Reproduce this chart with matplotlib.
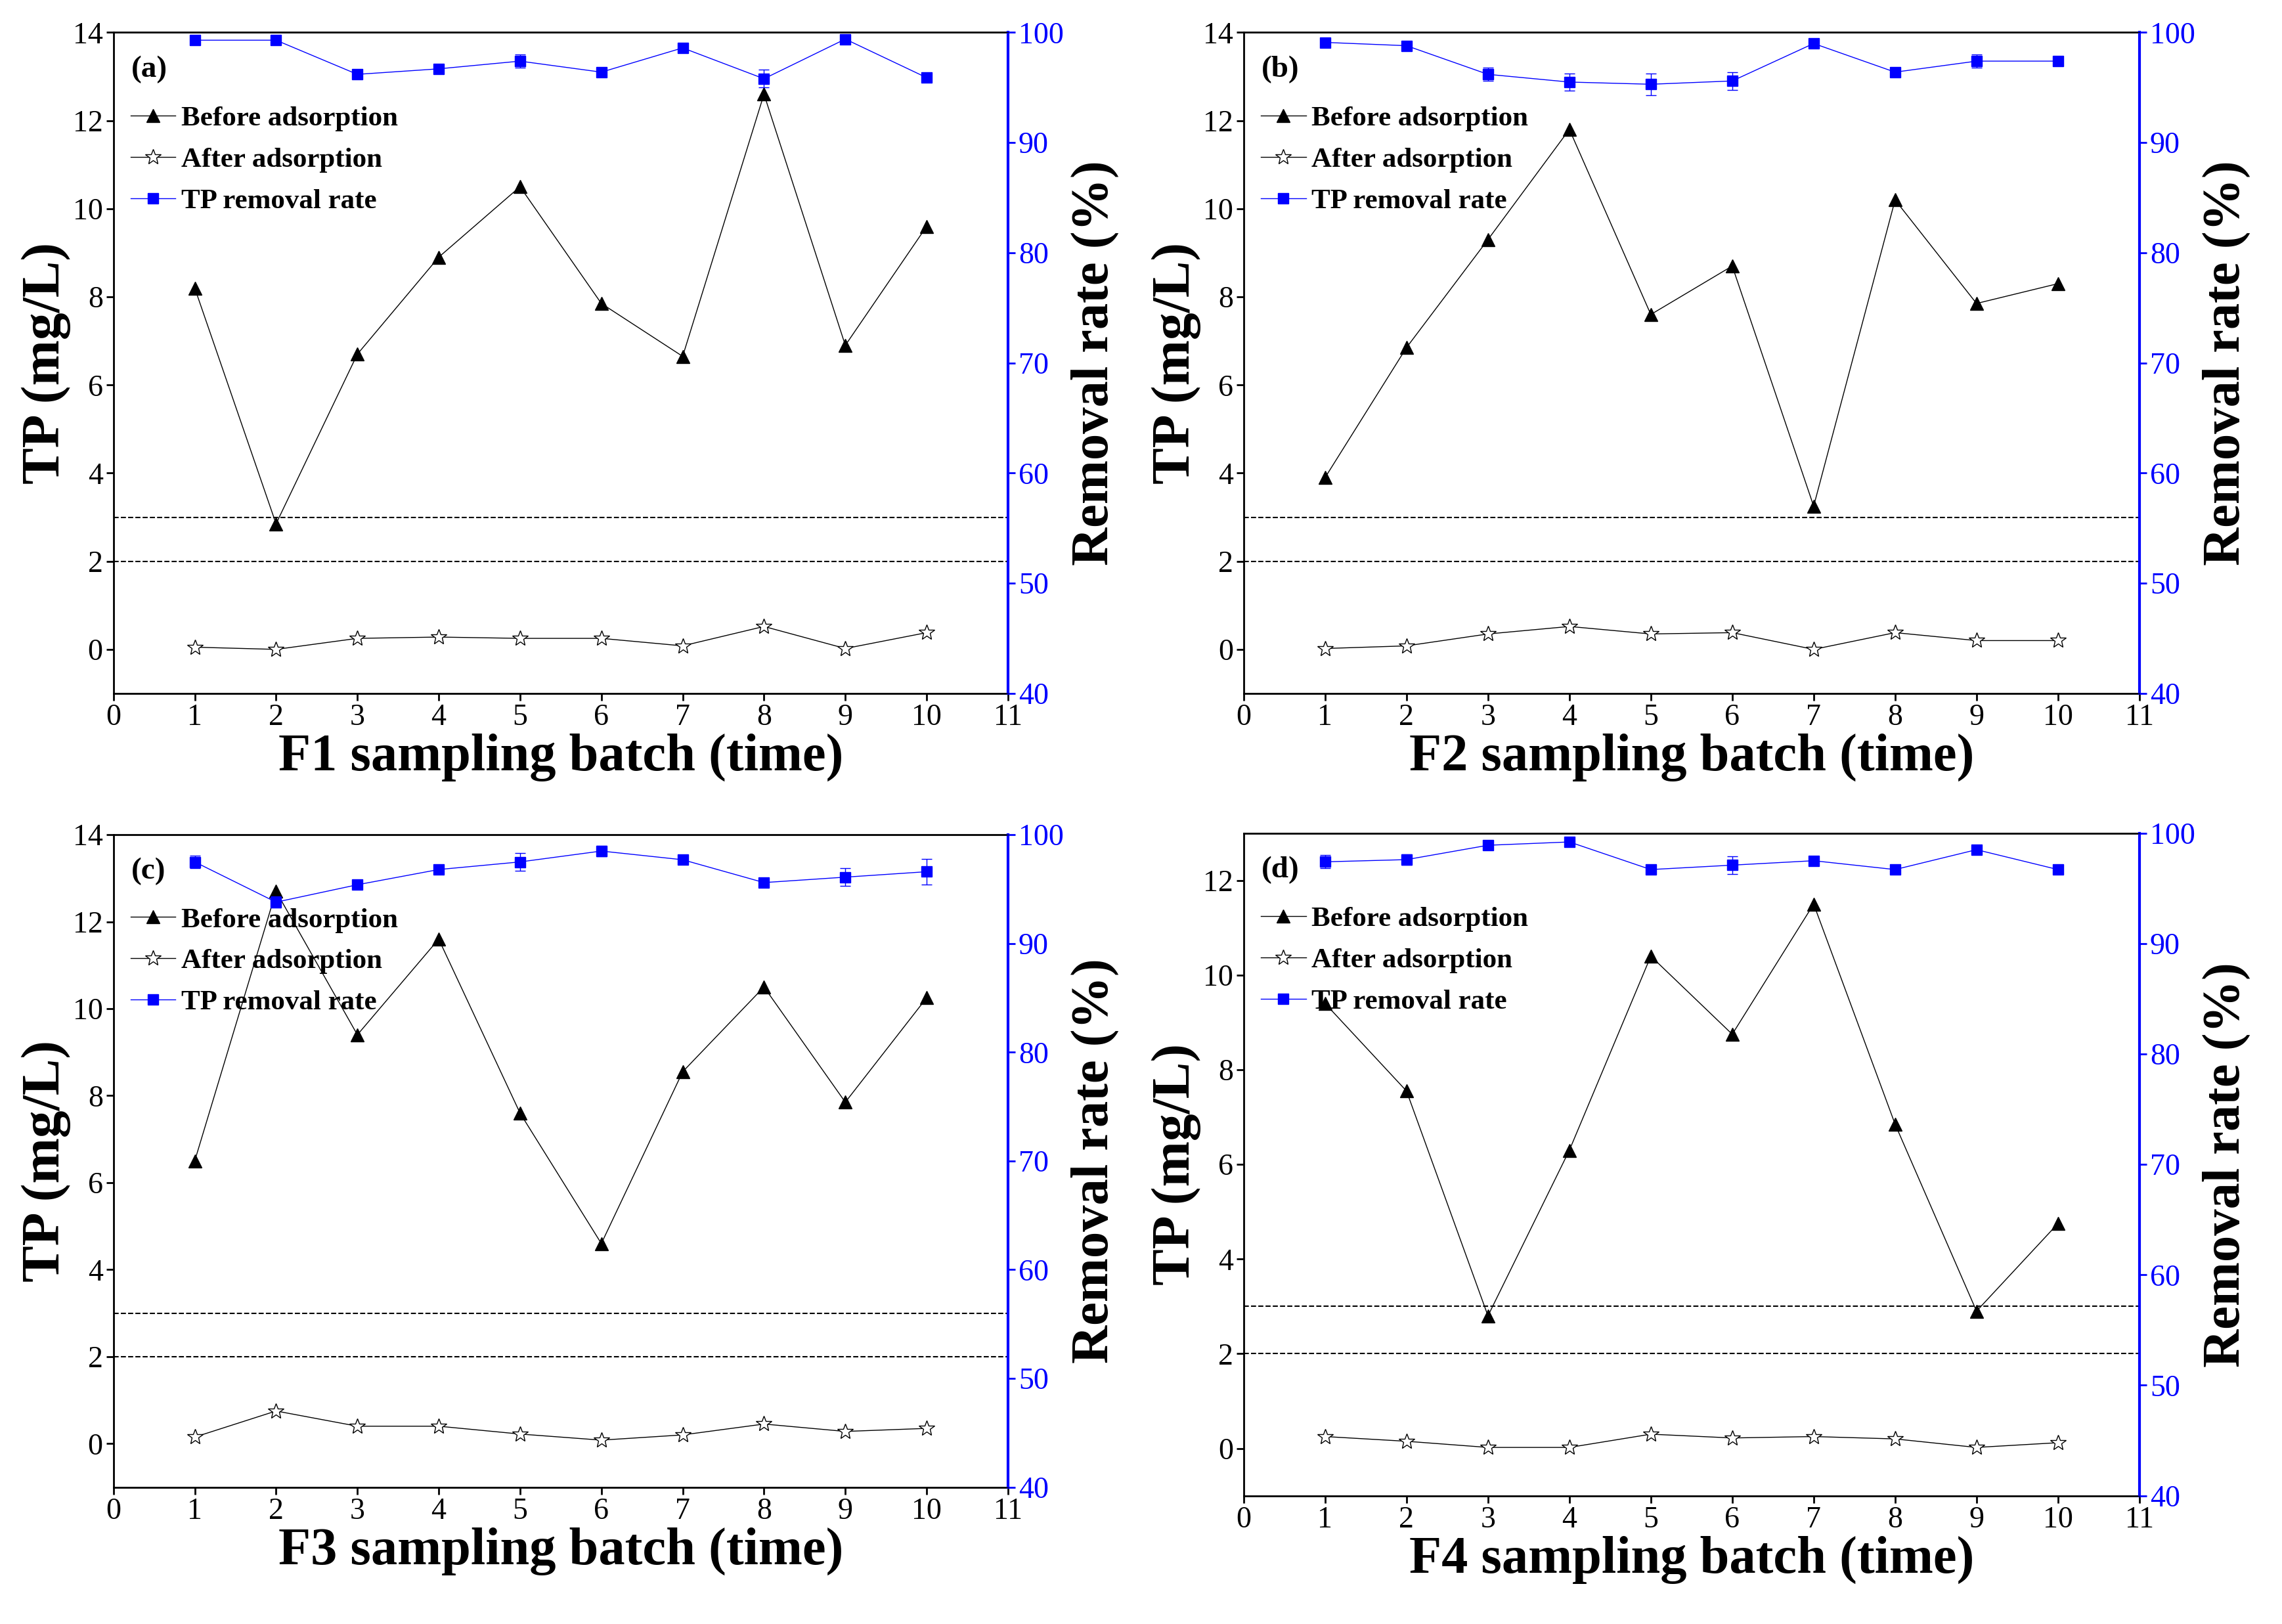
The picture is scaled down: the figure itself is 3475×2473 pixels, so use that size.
import matplotlib
matplotlib.use("Agg")
import matplotlib.pyplot as plt
import numpy as np

plt.rcParams['font.family'] = ['Liberation Serif', 'DejaVu Serif']
plt.rcParams['font.weight'] = 'bold'

batches = [1, 2, 3, 4, 5, 6, 7, 8, 9, 10]
xticks = list(range(0, 12))
panel_labels = ['(a)', '(b)', '(c)', '(d)']
xlabels = ['F1 sampling batch (time)', 'F2 sampling batch (time)',
           'F3 sampling batch (time)', 'F4 sampling batch (time)']

before_F1 = [8.2, 2.85, 6.7, 8.9, 10.5, 7.85, 6.65, 12.6, 6.9, 9.6]
after_F1 = [0.05, 0.0, 0.25, 0.28, 0.25, 0.25, 0.08, 0.52, 0.02, 0.38]
rate_F1 = [99.3, 99.3, 96.2, 96.7, 97.4, 96.4, 98.6, 95.8, 99.4, 95.9]
err_F1 = [0.3, 0.3, 0.4, 0.3, 0.6, 0.3, 0.3, 0.8, 0.3, 0.4]

before_F2 = [3.9, 6.85, 9.3, 11.8, 7.6, 8.7, 3.25, 10.2, 7.85, 8.3]
after_F2 = [0.02, 0.08, 0.35, 0.52, 0.35, 0.38, 0.0, 0.38, 0.2, 0.2]
rate_F2 = [99.1, 98.8, 96.2, 95.5, 95.3, 95.6, 99.0, 96.4, 97.4, 97.4]
err_F2 = [0.3, 0.3, 0.6, 0.8, 1.0, 0.8, 0.3, 0.3, 0.6, 0.3]

before_F3 = [6.5, 12.7, 9.4, 11.6, 7.6, 4.6, 8.55, 10.5, 7.85, 10.25]
after_F3 = [0.15, 0.75, 0.4, 0.4, 0.22, 0.08, 0.2, 0.45, 0.28, 0.35]
rate_F3 = [97.5, 93.8, 95.4, 96.8, 97.5, 98.5, 97.7, 95.6, 96.1, 96.6]
err_F3 = [0.6, 0.5, 0.3, 0.3, 0.8, 0.5, 0.3, 0.3, 0.8, 1.2]

before_F4 = [9.4, 7.55, 2.8, 6.3, 10.4, 8.75, 11.5, 6.85, 2.9, 4.75]
after_F4 = [0.25, 0.15, 0.02, 0.02, 0.3, 0.22, 0.25, 0.2, 0.02, 0.12]
rate_F4 = [97.4, 97.6, 98.9, 99.2, 96.7, 97.1, 97.5, 96.7, 98.5, 96.7]
err_F4 = [0.6, 0.5, 0.3, 0.3, 0.3, 0.8, 0.3, 0.3, 0.3, 0.3]

data = [(before_F1, after_F1, rate_F1, err_F1),
        (before_F2, after_F2, rate_F2, err_F2),
        (before_F3, after_F3, rate_F3, err_F3),
        (before_F4, after_F4, rate_F4, err_F4)]

positions = [[0.0497, 0.573, 0.392, 0.407],
             [0.545, 0.573, 0.3925, 0.407],
             [0.0497, 0.0843, 0.392, 0.4017],
             [0.545, 0.079, 0.3925, 0.408]]
ylims = [(-1, 14), (-1, 14), (-1, 14), (-1, 13)]
yticks_l = [list(range(0, 15, 2))] * 3 + [list(range(0, 13, 2))]
blue = '#0000ff'

fig = plt.figure(figsize=(34.75, 24.73), dpi=100)
for i in range(4):
    before, after, rate, err = data[i]
    ax = fig.add_axes(positions[i])
    ax2 = ax.twinx()
    ax.axhline(3, color='black', ls='--', lw=1.5)
    ax.axhline(2, color='black', ls='--', lw=1.5)
    ax.plot(batches, before, color='black', lw=1, marker='^', ms=15, label='Before adsorption')
    ax.plot(batches, after, color='black', lw=1, marker='*', ms=18, mfc='white', mec='black',
            label='After adsorption')
    ax2.errorbar(batches, rate, yerr=err, color=blue, lw=1, marker='s', ms=12,
                 capsize=6, label='TP removal rate')
    ax.plot([], [], color=blue, lw=1, marker='s', ms=12, label='TP removal rate')
    ax.set_xlim(0, 11)
    ax.set_ylim(*ylims[i])
    ax.set_xticks(xticks)
    ax.set_yticks(yticks_l[i])
    ax2.set_ylim(40, 100)
    ax2.set_yticks(range(40, 101, 10))
    ax.tick_params(labelsize=33, width=2, length=8)
    ax2.tick_params(labelsize=33, width=2, length=8, colors=blue)
    ax2.spines['right'].set_color(blue)
    ax2.spines['right'].set_linewidth(3)
    for s in ['left', 'top', 'bottom']:
        ax.spines[s].set_linewidth(2)
    for lab in ax.get_xticklabels() + ax.get_yticklabels():
        lab.set_fontweight('normal')
    for lab in ax2.get_yticklabels():
        lab.set_fontweight('normal')
        lab.set_color(blue)
    ax.set_xlabel(xlabels[i], fontsize=58, fontweight='bold', labelpad=2)
    ax.set_ylabel('TP (mg/L)', fontsize=60, fontweight='bold', labelpad=2)
    ax2.set_ylabel('Removal rate (%)', fontsize=58, fontweight='bold', labelpad=8)
    ax.text(0.02, 0.965, panel_labels[i], transform=ax.transAxes, fontsize=34,
            fontweight='bold', va='top')
    ax.legend(loc='upper left', bbox_to_anchor=(0.0, 0.915), frameon=False,
              prop={'size': 31, 'weight': 'bold'}, handlelength=1.6, handletextpad=0.2,
              borderaxespad=0.2, labelspacing=0.55)

fig.savefig('out.png', dpi=100)
